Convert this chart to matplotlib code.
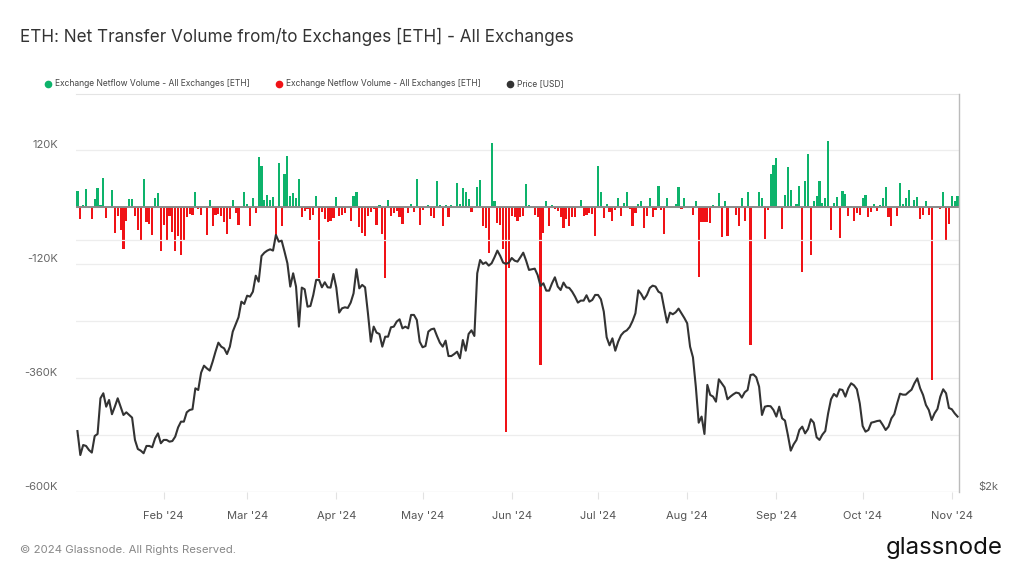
import numpy as np
import pandas as pd
import matplotlib
matplotlib.use('Agg')
import matplotlib.pyplot as plt
import matplotlib.dates as mdates
from matplotlib.lines import Line2D
from matplotlib.ticker import FixedLocator, FuncFormatter, NullLocator

plt.rcParams['font.family'] = ['Inter', 'DejaVu Sans']

# ---------------------------------------------------------
# Data (daily)
# ---------------------------------------------------------
start_date = "2024-01-02"

# Exchange netflow volume, thousands of ETH (positive = inflow)
netflow_k = [
    34, -25, 4, 37, -2, -25, 16, 41, 5, 62, -24, 1, 35, -55, -18, -49, -89, -29, 16, 16,
    -18, -48, -71, 59, -31, -36, -59, 20, 30, -93, -38, -69, -18, -52, -93, -61, -102, -70, -21, -14,
    -16, 32, -4, -16, 1, -59, 14, -39, -16, -14, -18, -32, -57, -25, 14, -12, -38, 1, 31, 7,
    -39, 18, -12, 106, 87, 14, 25, 14, 21, -59, 93, -41, 69, 107, 23, 30, 18, 59, -20, -9,
    -5, -27, -16, 24, -150, -11, -25, -32, -29, -24, 21, -18, -16, -12, 1, -29, 24, 31, -43, -54,
    -62, -18, -11, -5, -38, 5, -57, -150, 14, -18, -12, -9, -21, -36, 1, -12, 7, -11, 59, -38,
    -7, 1, 4, -18, -24, 54, 5, -41, 4, -20, 4, 1, 50, 7, 39, 31, 16, -11, 1, 43,
    57, -41, -45, -96, 134, 13, -34, -38, -89, -474, -129, -18, -20, -29, -21, -18, 48, 4, 1, -16,
    -20, -333, -54, 12, -39, 5, -4, -8, -21, -44, -25, -39, -21, -21, 1, 14, -18, -16, -12, -14,
    -61, 86, 31, -24, 7, -11, -29, -7, 18, -18, 9, 32, -4, -39, -12, 6, 12, -45, -18, 20,
    -21, -7, 44, -7, -56, 20, 1, 1, 7, 42, -5, 18, 1, 1, -16, 12, -148, -32, -32, -31,
    -34, 5, 1, 29, -64, 13, -62, 1, 1, -16, -41, 19, -29, 31, -290, 2, 1, 31, 18, -68,
    -7, 69, 89, 104, 2, -46, 26, 84, 36, -3, 7, 45, -136, 54, 112, -100, 13, 23, 54, 9,
    20, 139, -48, 9, 21, -65, 34, 28, -18, 2, -29, -12, -16, 18, 26, -21, -11, 7, -9, 4,
    19, 43, -21, -39, 1, -18, 50, 7, 19, 36, 2, 14, 21, -25, -16, 13, -16, -364, 1, 3,
    -5, 31, -69, -36, 23, 12, 23,
]

# ETH price, USD
price_usd = [
    2365, 2214, 2276, 2270, 2245, 2229, 2333, 2346, 2588, 2624, 2529, 2576, 2477, 2529, 2588, 2529, 2472, 2490, 2472, 2454,
    2308, 2251, 2241, 2225, 2270, 2270, 2262, 2318, 2350, 2287, 2308, 2308, 2297, 2301, 2329, 2389, 2427, 2427, 2490, 2506,
    2511, 2660, 2648, 2777, 2831, 2810, 2793, 2862, 2942, 3016, 2983, 2969, 2923, 2983, 3109, 3172, 3234, 3376, 3355, 3432,
    3423, 3470, 3626, 3567, 3828, 3863, 3885, 3899, 3885, 4056, 3982, 3993, 3874, 3752, 3519, 3650, 3519, 3152, 3509, 3493,
    3330, 3336, 3439, 3584, 3584, 3512, 3561, 3512, 3509, 3643, 3509, 3276, 3315, 3324, 3318, 3367, 3454, 3691, 3502, 3535,
    3512, 3270, 3024, 3152, 3100, 3089, 2983, 3066, 3066, 3146, 3152, 3196, 3216, 3137, 3152, 3137, 3255, 3255, 3210, 3024,
    2978, 2988, 3109, 3129, 3135, 3072, 3016, 2983, 3033, 2907, 2907, 2923, 2942, 2889, 3038, 2950, 3089, 3120, 3072, 3650,
    3786, 3745, 3762, 3728, 3752, 3814, 3885, 3828, 3759, 3745, 3759, 3807, 3779, 3769, 3814, 3863, 3779, 3684, 3691, 3697,
    3633, 3525, 3551, 3480, 3480, 3551, 3610, 3519, 3486, 3558, 3512, 3506, 3470, 3423, 3367, 3386, 3386, 3436, 3376, 3392,
    3439, 3439, 3398, 3285, 3061, 2994, 3052, 2950, 3024, 3078, 3106, 3120, 3149, 3201, 3270, 3483, 3448, 3398, 3439, 3506,
    3528, 3519, 3470, 3454, 3315, 3187, 3276, 3261, 3279, 3312, 3270, 3228, 3181, 2983, 2897, 2672, 2420, 2461, 2346, 2685,
    2612, 2600, 2564, 2727, 2697, 2667, 2581, 2600, 2616, 2629, 2624, 2593, 2631, 2648, 2759, 2764, 2742, 2672, 2472, 2529,
    2534, 2532, 2506, 2461, 2529, 2449, 2434, 2340, 2241, 2280, 2308, 2372, 2394, 2350, 2378, 2443, 2420, 2325, 2308, 2342,
    2365, 2483, 2581, 2619, 2600, 2653, 2648, 2600, 2660, 2697, 2682, 2653, 2552, 2398, 2361, 2372, 2420, 2425, 2431, 2434,
    2405, 2372, 2394, 2449, 2477, 2552, 2621, 2614, 2614, 2633, 2650, 2697, 2734, 2660, 2612, 2541, 2506, 2438, 2483, 2513,
    2600, 2653, 2624, 2520, 2511, 2483, 2461,
]

left_ticks_k = [120, 0, -120, -240, -360, -480, -600]
left_labels = {120: "120K", -120: "-120K", -360: "-360K", -600: "-600K"}
price_ticks = [2000, 4000]
price_labels = {2000: "$2k"}

title = "ETH: Net Transfer Volume from/to Exchanges [ETH] - All Exchanges"
legend_labels = ["Exchange Netflow Volume - All Exchanges [ETH]",
                 "Exchange Netflow Volume - All Exchanges [ETH]",
                 "Price [USD]"]

GREEN = "#0db36b"
RED = "#f01216"
DARK = "#333333"
GRID = "#ededed"

# ---------------------------------------------------------
dates = pd.date_range(start_date, periods=len(netflow_k), freq="D")
flow = np.array(netflow_k, dtype=float) * 1000
price_dates = dates[:len(price_usd)]

W, H = 1024, 576
fig = plt.figure(figsize=(W / 100, H / 100), dpi=100)
fig.patch.set_facecolor("white")

x0, x1, y0, y1 = 76, 959, 94, 492
ax = fig.add_axes([x0 / W, 1 - y1 / H, (x1 - x0) / W, (y1 - y0) / H])

colors = [GREEN if v >= 0 else RED for v in flow]
ax.bar(dates, flow, width=0.75, color=colors, zorder=2, linewidth=0)
ax.axhline(0, color="#8a8a8a", lw=1.4, zorder=3)

ax.set_ylim(-600e3, 237.9e3)
ax.set_xlim(dates[0] - pd.Timedelta(hours=12), dates[-1] + pd.Timedelta(hours=12))

ax.yaxis.set_major_locator(FixedLocator([v * 1000 for v in left_ticks_k]))
ax.yaxis.set_major_formatter(FuncFormatter(lambda v, p: left_labels.get(int(round(v / 1000)), "")))
ax.tick_params(axis="y", length=0, pad=13, labelsize=8, labelcolor="#666666")
for lab in ax.get_yticklabels():
    lab.set_verticalalignment("bottom")
ax.grid(axis="y", color=GRID, lw=0.9, zorder=0)
ax.set_axisbelow(True)

ax.xaxis.set_major_locator(mdates.MonthLocator(bymonthday=1))
ax.xaxis.set_major_formatter(mdates.DateFormatter("%b '%y"))
ax.tick_params(axis="x", length=5, width=0.8, color="#e2e2e2", pad=9, labelsize=8, labelcolor="#555555")

for s in ["left", "right", "bottom"]:
    ax.spines[s].set_visible(False)
ax.spines["top"].set_color("#e4e4e4")
ax.spines["top"].set_linewidth(0.8)

# price on log right axis
ax2 = ax.twinx()
ax2.plot(price_dates, price_usd, color=DARK, lw=1.5, zorder=4)
ax2.set_yscale("log")
ax2.set_ylim(2000, 2000 * 2 ** ((y1 - y0) / 252))
ax2.yaxis.set_major_locator(FixedLocator(price_ticks))
ax2.yaxis.set_minor_locator(NullLocator())
ax2.yaxis.set_major_formatter(FuncFormatter(lambda v, p: price_labels.get(int(round(v)), "")))
ax2.tick_params(axis="y", length=0, pad=14, labelsize=8, labelcolor="#666666")
for lab in ax2.get_yticklabels():
    lab.set_verticalalignment("bottom")
ax2.grid(axis="y", color=GRID, lw=0.9)
for s in ["left", "top", "bottom"]:
    ax2.spines[s].set_visible(False)
ax2.spines["right"].set_color("#bbbbbb")
ax2.spines["right"].set_linewidth(1.0)
ax2.set_xlim(ax.get_xlim())

# title, legend, footer
fig.text(20 / W, 1 - 37 / H, title, fontsize=12.3, color="#333333", va="center", ha="left")

leg_y = 1 - 84 / H
for dot_x, col, lab in zip([48, 279, 510], [GREEN, RED, DARK], legend_labels):
    fig.add_artist(Line2D([dot_x / W], [leg_y], marker="o", markersize=4.5, color=col,
                          linestyle="none", transform=fig.transFigure))
    fig.text((dot_x + 7) / W, leg_y, lab, fontsize=6.1, color="#444444", va="center", ha="left")

fig.text(20 / W, 1 - 550 / H, "\u00a9 2024 Glassnode. All Rights Reserved.", fontsize=8.2,
         color="#888888", va="center", ha="left")
fig.text(1003 / W, 1 - 548 / H, "glassnode", fontsize=17.3, color="#111111", va="center", ha="right")

plt.savefig("out.png", dpi=100, facecolor=fig.get_facecolor())
plt.close()
